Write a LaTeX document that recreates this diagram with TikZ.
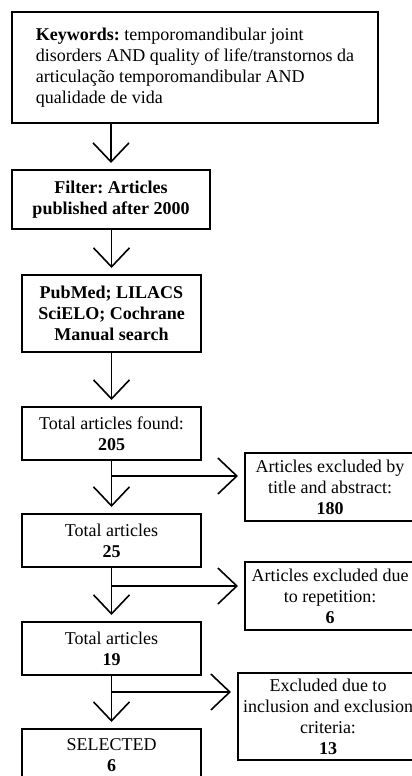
\documentclass[tikz,border=0pt]{standalone}
\usepackage{fontspec}
\setmainfont{Liberation Serif}
\usetikzlibrary{arrows.meta,positioning,calc}

\begin{document}
\frenchspacing
\begin{tikzpicture}[x=1pt,y=-1pt,
  box/.style={draw,line width=2pt,align=center,inner sep=0pt,font=\fontsize{18}{21}\selectfont},
  arr/.style={-{Straight Barb[length=19pt,width=36pt]},line width=1.6pt,shorten >=6pt}]
\useasboundingbox (0,0) rectangle (412,776);
\node[box,minimum width=366,minimum height=111,align=left] (kw) at (195,67.5)
  {\textbf{Keywords:} temporomandibular joint\\disorders AND quality of life/transtornos da\\articulação temporomandibular AND\\qualidade de vida};
\node[box,font=\fontsize{18}{21}\selectfont\bfseries,minimum width=198,minimum height=59] (filt) at (111,199.5) {Filter: Articles\\published after 2000};
\node[box,font=\fontsize{18}{21}\selectfont\bfseries,minimum width=179,minimum height=77] (db) at (111.5,313.5) {PubMed; LILACS\\SciELO; Cochrane\\Manual search};
\node[box,minimum width=179,minimum height=53] (found) at (111.5,433.5) {Total articles found:\\\textbf{205}};
\node[box,minimum width=179,minimum height=53] (t25) at (111.5,540.5) {Total articles\\\textbf{25}};
\node[box,minimum width=179,minimum height=53] (t19) at (111.5,648.5) {Total articles\\\textbf{19}};
\node[box,minimum width=179,minimum height=53] (sel) at (111.5,755.5) {SELECTED\\\textbf{6}};
\node[box,minimum width=170,minimum height=68] (ex1) at (330,487) {Articles excluded by\\title and abstract:\\\textbf{180}};
\node[box,minimum width=170,minimum height=68] (ex2) at (330,596) {Articles excluded due\\to repetition:\\\textbf{6}};
\node[box,minimum width=180,minimum height=87] (ex3) at (328,716.5) {Excluded due to\\inclusion and exclusion\\criteria:\\\textbf{13}};
\foreach \a/\b in {kw/filt,filt/db,db/found,found/t25,t25/t19,t19/sel}
  \draw[arr] (\a.south -| \b.north) -- (\b.north);
\foreach \a/\b/\d in {found/ex1/15,t25/ex2/18,t19/ex3/16}
  \draw[arr] ([yshift=-\d]\a.south) -- ([yshift=-\d]\a.south -| \b.west);
\end{tikzpicture}
\end{document}
